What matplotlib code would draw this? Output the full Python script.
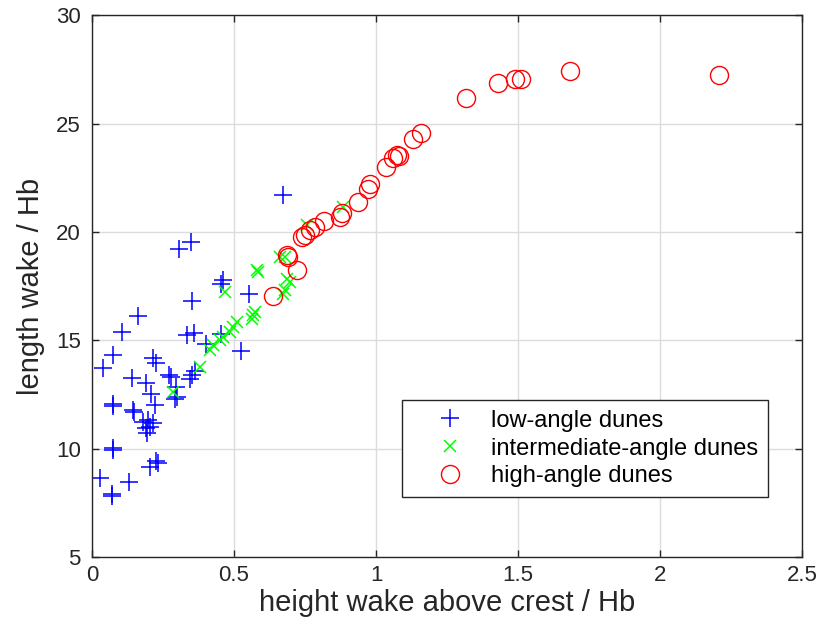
import numpy as np
import matplotlib
matplotlib.use("Agg")
import matplotlib.pyplot as plt

plt.rcParams['font.family'] = ['Liberation Sans', 'DejaVu Sans']

# low-angle dunes
low_x = [0.672, 0.307, 0.349, 0.460, 0.454, 0.353, 0.552, 0.162, 0.105, 0.333,
         0.360, 0.455, 0.525, 0.400, 0.073, 0.214, 0.225, 0.038, 0.142, 0.190,
         0.272, 0.278, 0.345, 0.351, 0.363, 0.296, 0.293, 0.298, 0.206, 0.222,
         0.073, 0.075, 0.143, 0.148, 0.181, 0.198, 0.216, 0.204, 0.190, 0.195,
         0.075, 0.073, 0.225, 0.233, 0.204, 0.028, 0.131, 0.069, 0.069]
low_y = [21.68, 19.19, 19.53, 17.76, 17.61, 16.81, 17.15, 16.10, 15.38, 15.23,
         15.35, 15.30, 14.49, 14.85, 14.33, 14.18, 13.97, 13.70, 13.28, 13.05,
         13.42, 13.30, 13.23, 13.39, 13.56, 12.85, 12.31, 12.39, 12.50, 12.00,
         12.05, 11.96, 11.77, 11.70, 11.24, 11.31, 11.19, 11.01, 10.93, 10.72,
         10.05, 9.93, 9.42, 9.36, 9.16, 8.63, 8.45, 7.90, 7.82]

# intermediate-angle dunes
mid_x = [0.286, 0.380, 0.415, 0.427, 0.451, 0.462, 0.486, 0.498, 0.509, 0.562,
         0.568, 0.574, 0.468, 0.580, 0.585, 0.662, 0.680, 0.685, 0.697, 0.680,
         0.674, 0.756, 0.885]
mid_y = [12.62, 13.77, 14.54, 14.77, 15.00, 15.15, 15.38, 15.61, 15.84, 16.00,
         16.15, 16.30, 17.23, 18.23, 18.15, 18.84, 18.84, 17.84, 17.69, 17.30,
         17.15, 20.30, 21.15]

# high-angle dunes
high_x = [0.636, 0.686, 0.690, 0.721, 0.739, 0.750, 0.768, 0.785, 0.817, 0.873,
          0.880, 0.937, 0.973, 0.979, 1.035, 1.060, 1.073, 1.081, 1.131, 1.157,
          1.317, 1.431, 1.489, 1.509, 1.684, 2.208]
high_y = [17.03, 18.92, 18.83, 18.23, 19.75, 19.84, 20.07, 20.21, 20.48, 20.71,
          20.85, 21.37, 21.96, 22.19, 22.99, 23.43, 23.53, 23.48, 24.29, 24.56,
          26.18, 26.86, 27.06, 27.06, 27.41, 27.24]

fig = plt.figure(figsize=(8.24, 6.39), dpi=100)
ax = fig.add_axes([0.1117, 0.1283, 0.8617, 0.848])

ax.plot(low_x, low_y, '+', color='#0000ff', ms=12.5, mew=1.1, ls='none',
        label='low-angle dunes')
ax.plot(mid_x, mid_y, 'x', color='#00ff00', ms=9, mew=1.1, ls='none',
        label='intermediate-angle dunes')
ax.plot(high_x, high_y, 'o', mfc='none', mec='#ff0000', ms=13, mew=1.0, ls='none',
        label='high-angle dunes')

ax.set_xlim(0, 2.5)
ax.set_ylim(5, 30)
ax.set_xticks(np.arange(0, 2.51, 0.5))
ax.set_xticklabels(['0', '0.5', '1', '1.5', '2', '2.5'])
ax.set_yticks(np.arange(5, 31, 5))
ax.grid(True, color='#dcdcdc', lw=1.0)
ax.set_axisbelow(True)

for s in ax.spines.values():
    s.set_color('#262626')
    s.set_linewidth(1.0)
ax.tick_params(direction='in', top=True, right=True, length=5, width=1.0,
               colors='#262626', labelsize=16, labelcolor='#262626')
ax.tick_params(axis='x', pad=6)
ax.tick_params(axis='y', pad=8)

ax.set_xlabel('height wake above crest / Hb', fontsize=21, color='#262626', labelpad=2)
ax.set_ylabel('length wake / Hb', fontsize=21, color='#262626', labelpad=8)

leg = ax.legend(loc='lower right', bbox_to_anchor=(0.952, 0.111), borderaxespad=0,
                fontsize=17, fancybox=False, framealpha=1, edgecolor='#262626',
                borderpad=0.4, handletextpad=0.1, labelspacing=0.25, handlelength=3.3)
leg.get_frame().set_linewidth(1.0)

fig.savefig('out.png', dpi=100)
